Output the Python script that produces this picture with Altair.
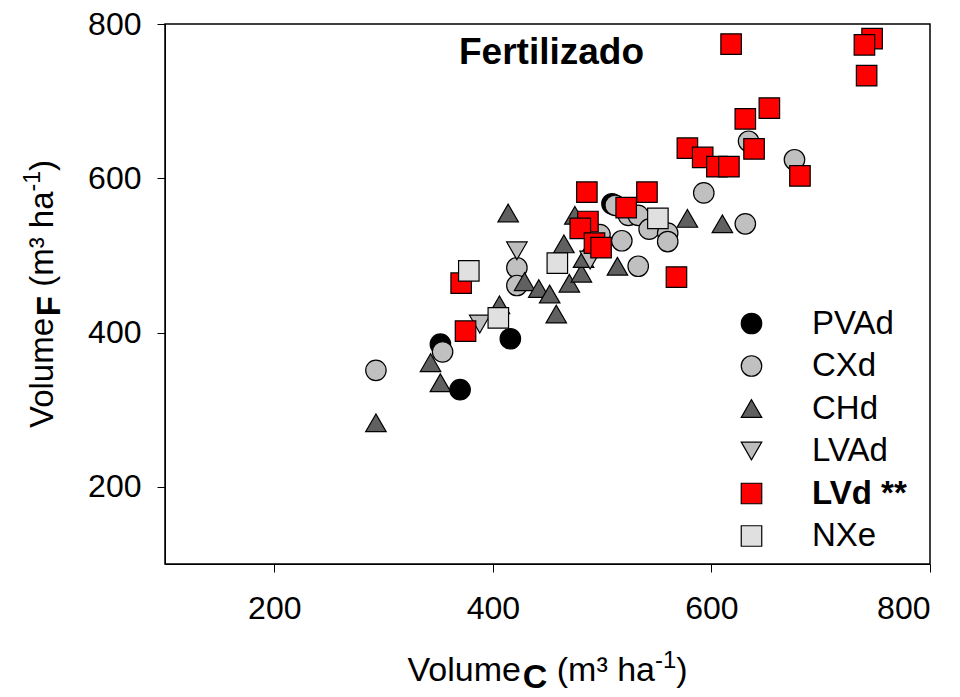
import altair as alt
import pandas as pd

# ---- data ----
series = ["PVAd", "CXd", "CHd", "LVAd", "LVd **", "NXe"]

pvad_x = [352, 370, 416, 509]
pvad_y = [385, 326, 392, 567]

cxd_x = [293, 354, 422, 422, 498, 518, 512, 524, 533, 543, 560, 560, 533, 593, 634, 676, 631]
cxd_y = [351, 375, 484, 461, 527, 519, 565, 552, 552, 534, 529, 518, 486, 581, 648, 624, 541]

chd_x = [293, 343, 352, 406, 414, 429, 442, 452, 458, 465, 470, 475, 481, 483, 514, 578, 610]
chd_y = [283, 361, 335, 436, 555, 466, 457, 450, 424, 515, 464, 552, 477, 496, 486, 548, 541]

lvad_x = [388, 422, 489]
lvad_y = [411, 506, 494]

lvd_x = [618, 747, 740, 742, 653, 631, 578, 592, 605, 616, 639, 681, 486, 541, 522, 487, 480, 493, 499, 568, 371, 375]
lvd_y = [774, 781, 773, 733, 691, 677, 639, 627, 615, 615, 638, 603, 582, 582, 562, 544, 535, 516, 510, 472, 464, 402]

nxe_x = [378, 405, 459, 551]
nxe_y = [480, 419, 490, 548]

x_ticks = [200, 400, 600, 800]
y_ticks = [200, 400, 600, 800]

all_x = [pvad_x, cxd_x, chd_x, lvad_x, lvd_x, nxe_x]
all_y = [pvad_y, cxd_y, chd_y, lvad_y, lvd_y, nxe_y]

rows = []
for name, xs, ys in zip(series, all_x, all_y):
    for a, b in zip(xs, ys):
        rows.append({"solo": name, "vc": a, "vf": b})
df = pd.DataFrame(rows)

# ---- styling ----
FONT = "Liberation Sans"
W, H = 765, 540
fills = ["#000000", "#c0c0c0", "#606060", "#bdbdbd", "#ff0000", "#e0e0e0"]
shapes = ["circle", "circle", "triangle-up", "triangle-down", "square", "square"]
sizes = [420, 420, 440, 440, 320, 320]

legend = alt.Legend(
    title=None, orient="none", legendX=570, legendY=283,
    labelFont=FONT, labelFontSize=33, labelColor="black",
    labelOffset=44, rowPadding=8.5,
    symbolStrokeColor="black", symbolStrokeWidth=1.2,
    labelFontWeight=alt.ExprRef("datum.label == 'LVd **' ? 'bold' : 'normal'"),
)

points = alt.Chart(df).mark_point(
    filled=True, stroke="black", strokeWidth=1.2, opacity=1
).encode(
    x=alt.X("vc:Q", scale=alt.Scale(domain=[100, 800], nice=False, zero=False),
            axis=alt.Axis(values=x_ticks, title=None, grid=False, labelFont=FONT,
                          labelFontSize=32, labelPadding=21, tickSize=8,
                          domainColor="black", tickColor="black", labelColor="black")),
    y=alt.Y("vf:Q", scale=alt.Scale(domain=[100, 800], nice=False, zero=False),
            axis=alt.Axis(values=y_ticks, title=None, grid=False, labelFont=FONT,
                          labelFontSize=32, labelPadding=16, tickSize=8,
                          domainColor="black", tickColor="black", labelColor="black")),
    color=alt.Color("solo:N", scale=alt.Scale(domain=series, range=fills), legend=legend),
    shape=alt.Shape("solo:N", scale=alt.Scale(domain=series, range=shapes), legend=legend),
    size=alt.Size("solo:N", scale=alt.Scale(domain=series, range=sizes), legend=legend),
)


def label(text, x, y, size, weight="normal", angle=0, align="left", baseline="alphabetic"):
    return alt.Chart(pd.DataFrame({"t": [text]})).mark_text(
        font=FONT, fontSize=size, fontWeight=weight, angle=angle,
        align=align, baseline=baseline, color="black"
    ).encode(text="t:N", x=alt.value(x), y=alt.value(y))


layers = [points]

# Title inside the plot
layers.append(label("Fertilizado", W / 2 + 4, 29, 37, weight="bold", align="center", baseline="middle"))

# X axis title: Volume C (m³ ha-1) with bold subscript C
TS = 34
gap = 0.278 * TS
xw = [3.390 * TS, 0.722 * TS, gap + 2.889 * TS, 0.889 * 0.7 * TS, 0.333 * TS]
x0 = W / 2 - sum(xw) / 2
yb = H + 117
cx = x0
layers.append(label("Volume", cx, yb, TS)); cx += xw[0]
layers.append(label("C", cx, yb + 0.2 * TS, TS, weight="bold")); cx += xw[1]
layers.append(label("(m³ ha", cx + gap, yb, TS)); cx += xw[2]
layers.append(label("-1", cx, yb - 0.38 * TS, 0.7 * TS)); cx += xw[3]
layers.append(label(")", cx, yb, TS))

# Y axis title (rotated): Volume F (m³ ha-1) with bold subscript F
TY = 33
gapy = 0.278 * TY
yw = [3.390 * TY, 0.611 * TY, gapy + 2.889 * TY, 0.889 * 0.7 * TY, 0.333 * TY]
y0 = H / 2 + sum(yw) / 2
xb = -112
cy = y0
layers.append(label("Volume", xb, cy, TY, angle=270)); cy -= yw[0]
layers.append(label("F", xb + 0.2 * TY, cy, TY, weight="bold", angle=270)); cy -= yw[1]
layers.append(label("(m³ ha", xb, cy - gapy, TY, angle=270)); cy -= yw[2]
layers.append(label("-1", xb - 0.38 * TY, cy, 0.7 * TY, angle=270)); cy -= yw[3]
layers.append(label(")", xb, cy, TY, angle=270))

chart = alt.layer(*layers).properties(
    width=W, height=H,
    padding={"left": 165, "top": 24, "right": 30, "bottom": 133},
    autosize=alt.AutoSizeParams(type="none"),
    background="white",
).configure_view(
    stroke="black", strokeWidth=1.5
)

chart.save("out.html", embed_options={"renderer": "svg", "actions": False})
